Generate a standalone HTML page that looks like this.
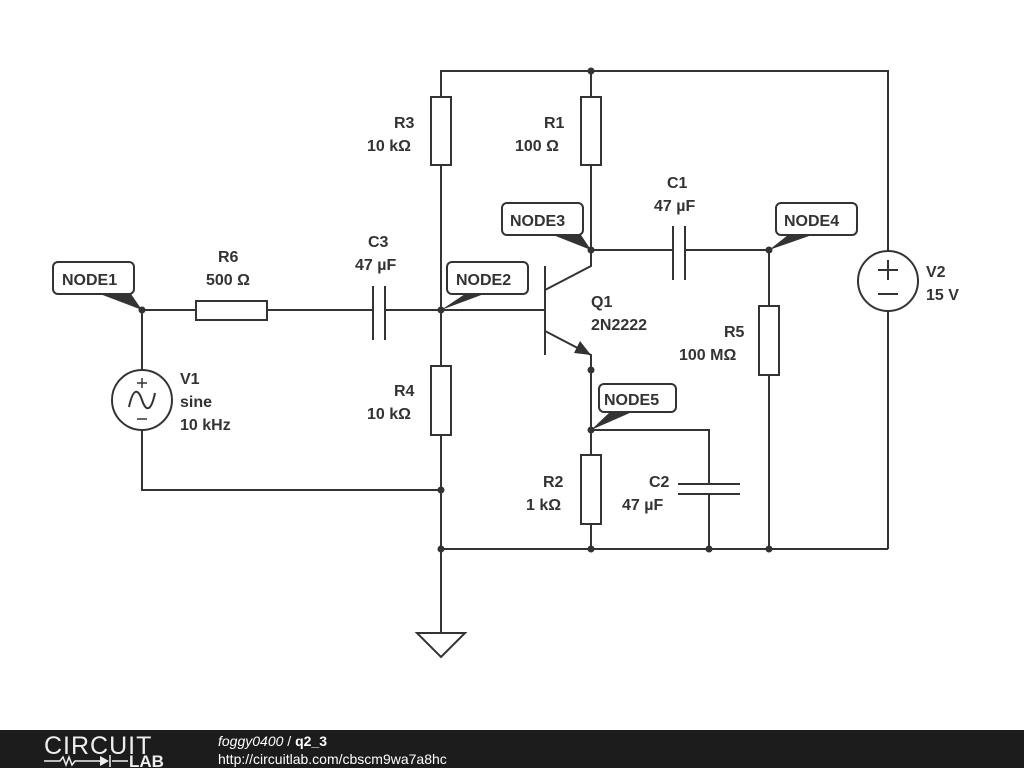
<!DOCTYPE html>
<html><head><meta charset="utf-8"><style>
html,body{margin:0;padding:0;background:#fff;width:1024px;height:768px;overflow:hidden}
svg{display:block}
text{font-family:"Liberation Sans",sans-serif;fill:#333;font-weight:bold;font-size:16px}
</style></head><body>
<svg width="1024" height="768" viewBox="0 0 1024 768">
<g stroke="#333" stroke-width="2" fill="none">
<polyline points="441,97 441,71 888,71 888,251"/>
<line x1="591" y1="71" x2="591" y2="97"/>
<rect x="431" y="97" width="20" height="68" fill="#fff"/>
<rect x="581" y="97" width="20" height="68" fill="#fff"/>
<line x1="441" y1="165" x2="441" y2="366"/>
<rect x="431" y="366" width="20" height="69" fill="#fff"/>
<line x1="441" y1="435" x2="441" y2="633"/>
<polygon points="417,633 465,633 441,657"/>
<line x1="441" y1="549" x2="888" y2="549"/>
<line x1="888" y1="311" x2="888" y2="549"/>
<circle cx="888" cy="281" r="30"/>
<line x1="878" y1="270" x2="898" y2="270"/><line x1="888" y1="260" x2="888" y2="280"/>
<line x1="878" y1="294" x2="898" y2="294"/>
<line x1="142" y1="310" x2="142" y2="370"/>
<circle cx="142" cy="400" r="30"/>
<polyline points="142,430 142,490 441,490"/>
<line x1="137" y1="383" x2="147" y2="383" stroke-width="1.5"/><line x1="142" y1="378" x2="142" y2="388" stroke-width="1.5"/>
<line x1="137" y1="419" x2="147" y2="419" stroke-width="1.5"/>
<path d="M129,407 C133,388 138,388 142,400 C146,412 151,412 155,393"/>
<line x1="142" y1="310" x2="196" y2="310"/>
<rect x="196" y="301" width="71" height="19" fill="#fff"/>
<line x1="267" y1="310" x2="373" y2="310"/>
<line x1="373" y1="286" x2="373" y2="340"/><line x1="385" y1="286" x2="385" y2="340"/>
<line x1="385" y1="310" x2="545" y2="310"/>
<line x1="545" y1="266" x2="545" y2="355"/>
<polyline points="545,290 591,266 591,165"/>
<polyline points="545,331 591,355 591,455"/>
<rect x="581" y="455" width="20" height="69" fill="#fff"/>
<line x1="591" y1="524" x2="591" y2="549"/>
<polyline points="591,430 709,430 709,484"/>
<line x1="678" y1="484" x2="740" y2="484"/><line x1="678" y1="494" x2="740" y2="494"/>
<line x1="709" y1="494" x2="709" y2="549"/>
<line x1="591" y1="250" x2="673" y2="250"/>
<line x1="673" y1="226" x2="673" y2="280"/><line x1="685" y1="226" x2="685" y2="280"/>
<polyline points="685,250 769,250 769,306"/>
<rect x="759" y="306" width="20" height="69" fill="#fff"/>
<line x1="769" y1="375" x2="769" y2="549"/>
<rect x="53" y="262" width="81" height="32" rx="5" fill="#fff"/>
<rect x="447" y="262" width="81" height="32" rx="5" fill="#fff"/>
<rect x="502" y="203" width="81" height="32" rx="5" fill="#fff"/>
<rect x="776" y="203" width="81" height="32" rx="5" fill="#fff"/>
<rect x="599" y="384" width="77" height="28" rx="5" fill="#fff"/>
</g>
<g fill="#333">
<polygon points="591,355 574,353 580,341"/>
<circle cx="591" cy="71" r="3.5"/><circle cx="441" cy="549" r="3.5"/><circle cx="591" cy="549" r="3.5"/>
<circle cx="709" cy="549" r="3.5"/><circle cx="769" cy="549" r="3.5"/><circle cx="441" cy="490" r="3.5"/>
<circle cx="142" cy="310" r="3.5"/><circle cx="441" cy="310" r="3.5"/><circle cx="591" cy="250" r="3.5"/>
<circle cx="769" cy="250" r="3.5"/><circle cx="591" cy="370" r="3.5"/><circle cx="591" cy="430" r="3.5"/>
<polygon points="100,294 131,294 142,310"/>
<polygon points="465,294 484,294 441,310"/>
<polygon points="553,235 581,235 591,250"/>
<polygon points="788,235 812,235 769,250"/>
<polygon points="610,412 632,412 591,430"/>
</g>
<text x="62" y="285">NODE1</text>
<text x="456" y="285">NODE2</text>
<text x="510" y="226">NODE3</text>
<text x="784" y="226">NODE4</text>
<text x="604" y="405">NODE5</text>
<text x="218" y="262">R6</text><text x="206" y="285">500 Ω</text>
<text x="368" y="247">C3</text><text x="355" y="270">47 µF</text>
<text x="394" y="128">R3</text><text x="367" y="151">10 kΩ</text>
<text x="544" y="128">R1</text><text x="515" y="151">100 Ω</text>
<text x="667" y="188">C1</text><text x="654" y="211">47 µF</text>
<text x="180" y="384">V1</text><text x="180" y="407">sine</text><text x="180" y="430">10 kHz</text>
<text x="394" y="396">R4</text><text x="367" y="419">10 kΩ</text>
<text x="591" y="307">Q1</text><text x="591" y="330">2N2222</text>
<text x="724" y="337">R5</text><text x="679" y="360">100 MΩ</text>
<text x="926" y="277">V2</text><text x="926" y="300">15 V</text>
<text x="543" y="487">R2</text><text x="526" y="510">1 kΩ</text>
<text x="649" y="487">C2</text><text x="622" y="510">47 µF</text>
<rect x="0" y="730" width="1024" height="38" fill="#1c1c1c"/>
<text x="44" y="754" style="fill:#eee;font-weight:normal;font-size:25px;letter-spacing:1px">CIRCUIT</text>
<text x="129" y="767" style="fill:#eee;font-size:17px">LAB</text>
<path d="M44,761 H60 l3,-4 3,8 3,-8 3,8 3,-4 H100 M112,761 H128" stroke="#eee" stroke-width="1.5" fill="none"/>
<polygon points="100,756 100,766 109,761" fill="#eee"/><line x1="110" y1="755" x2="110" y2="767" stroke="#eee" stroke-width="1.5"/>
<text x="218" y="746" style="fill:#fff;font-weight:normal;font-style:italic;font-size:14px">foggy0400 <tspan font-style="normal">/</tspan> <tspan font-weight="bold" font-style="normal">q2_3</tspan></text>
<text x="218" y="764" style="fill:#fff;font-weight:normal;font-size:14px">http://circuitlab.com/cbscm9wa7a8hc</text>
</svg>
</body></html>
